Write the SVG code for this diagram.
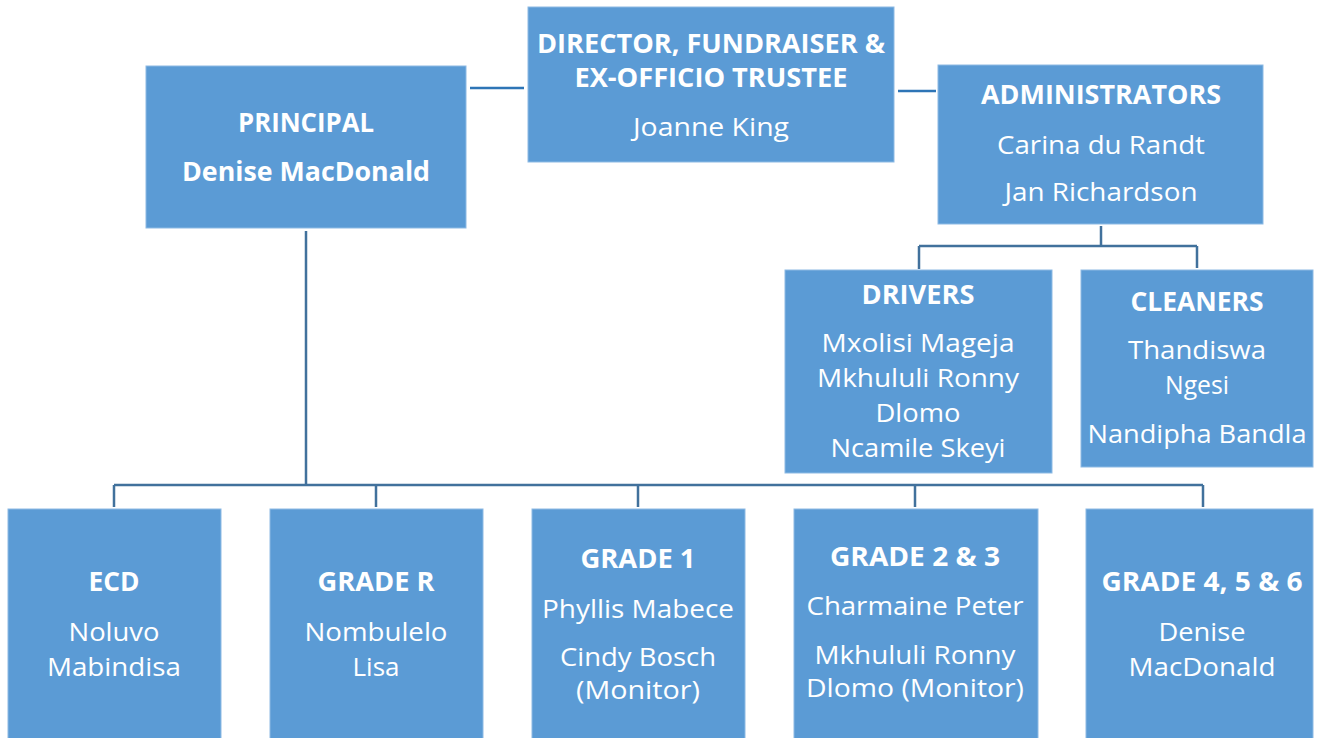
<svg xmlns="http://www.w3.org/2000/svg" width="1324" height="738" viewBox="0 0 1324 738">
<style>
.box{fill:#5B9BD5;stroke:#8DBAE4;stroke-width:1}
text{font-family:"Open Sans","Noto Sans","Liberation Sans",sans-serif;font-size:26px;fill:#FFFFFF;text-anchor:middle}
.b{font-weight:bold}
.top{fill:none;stroke:#2E75B6;stroke-width:2.5}
.tree{fill:none;stroke:#41719C;stroke-width:2.5}
</style>
<rect width="1324" height="738" fill="#FFFFFF"/>
<g id="connectors">
<path class="top" d="M470,88 H524"/>
<path class="top" d="M898,91 H936"/>
<path class="tree" d="M306,231 V485 M114,485 H1203 M114,485 V507 M376,485 V507 M638,485 V507 M915,485 V507 M1203,485 V507"/>
<path class="tree" d="M1101,226 V246 M919,246 H1197 M919,246 V269 M1197,246 V268"/>
</g>
<g id="principal">
<rect class="box" x="146" y="66" width="320" height="162"/>
<text class="b" x="306" y="132" textLength="136" lengthAdjust="spacingAndGlyphs">PRINCIPAL</text>
<text class="b" x="306" y="181" textLength="248" lengthAdjust="spacingAndGlyphs">Denise MacDonald</text>
</g>
<g id="director">
<rect class="box" x="528" y="7" width="366" height="155"/>
<text class="b" x="711" y="53" textLength="348" lengthAdjust="spacingAndGlyphs">DIRECTOR, FUNDRAISER &amp;</text>
<text class="b" x="711" y="87" textLength="273" lengthAdjust="spacingAndGlyphs">EX-OFFICIO TRUSTEE</text>
<text x="711" y="136" textLength="156" lengthAdjust="spacingAndGlyphs">Joanne King</text>
</g>
<g id="administrators">
<rect class="box" x="938" y="65" width="325" height="159"/>
<text class="b" x="1101" y="104" textLength="240" lengthAdjust="spacingAndGlyphs">ADMINISTRATORS</text>
<text x="1101" y="154" textLength="208" lengthAdjust="spacingAndGlyphs">Carina du Randt</text>
<text x="1101" y="201" textLength="193" lengthAdjust="spacingAndGlyphs">Jan Richardson</text>
</g>
<g id="drivers">
<rect class="box" x="785" y="270" width="267" height="203"/>
<text class="b" x="918" y="304" textLength="113" lengthAdjust="spacingAndGlyphs">DRIVERS</text>
<text x="918" y="352" textLength="193" lengthAdjust="spacingAndGlyphs">Mxolisi Mageja</text>
<text x="918" y="387" textLength="202" lengthAdjust="spacingAndGlyphs">Mkhululi Ronny</text>
<text x="918" y="422" textLength="85" lengthAdjust="spacingAndGlyphs">Dlomo</text>
<text x="918" y="457" textLength="175" lengthAdjust="spacingAndGlyphs">Ncamile Skeyi</text>
</g>
<g id="cleaners">
<rect class="box" x="1081" y="270" width="232" height="197"/>
<text class="b" x="1197" y="311" textLength="133" lengthAdjust="spacingAndGlyphs">CLEANERS</text>
<text x="1197" y="359" textLength="138" lengthAdjust="spacingAndGlyphs">Thandiswa</text>
<text x="1197" y="394" textLength="64" lengthAdjust="spacingAndGlyphs">Ngesi</text>
<text x="1197" y="443" textLength="219" lengthAdjust="spacingAndGlyphs">Nandipha Bandla</text>
</g>
<g id="ecd">
<rect class="box" x="8" y="509" width="213" height="232"/>
<text class="b" x="114" y="591" textLength="51" lengthAdjust="spacingAndGlyphs">ECD</text>
<text x="114" y="641" textLength="91" lengthAdjust="spacingAndGlyphs">Noluvo</text>
<text x="114" y="676" textLength="134" lengthAdjust="spacingAndGlyphs">Mabindisa</text>
</g>
<g id="grade-r">
<rect class="box" x="270" y="509" width="213" height="232"/>
<text class="b" x="376" y="591" textLength="117" lengthAdjust="spacingAndGlyphs">GRADE R</text>
<text x="376" y="641" textLength="143" lengthAdjust="spacingAndGlyphs">Nombulelo</text>
<text x="376" y="676" textLength="47" lengthAdjust="spacingAndGlyphs">Lisa</text>
</g>
<g id="grade-1">
<rect class="box" x="532" y="509" width="213" height="232"/>
<text class="b" x="638" y="568" textLength="115" lengthAdjust="spacingAndGlyphs">GRADE 1</text>
<text x="638" y="618" textLength="192" lengthAdjust="spacingAndGlyphs">Phyllis Mabece</text>
<text x="638" y="666" textLength="156" lengthAdjust="spacingAndGlyphs">Cindy Bosch</text>
<text x="638" y="699" textLength="124" lengthAdjust="spacingAndGlyphs">(Monitor)</text>
</g>
<g id="grade-2-3">
<rect class="box" x="794" y="509" width="244" height="232"/>
<text class="b" x="915" y="566" textLength="170" lengthAdjust="spacingAndGlyphs">GRADE 2 &amp; 3</text>
<text x="915" y="615" textLength="217" lengthAdjust="spacingAndGlyphs">Charmaine Peter</text>
<text x="915" y="664" textLength="201" lengthAdjust="spacingAndGlyphs">Mkhululi Ronny</text>
<text x="915" y="697" textLength="218" lengthAdjust="spacingAndGlyphs">Dlomo (Monitor)</text>
</g>
<g id="grade-4-5-6">
<rect class="box" x="1086" y="509" width="227" height="232"/>
<text class="b" x="1202" y="591" textLength="201" lengthAdjust="spacingAndGlyphs">GRADE 4, 5 &amp; 6</text>
<text x="1202" y="641" textLength="87" lengthAdjust="spacingAndGlyphs">Denise</text>
<text x="1202" y="676" textLength="147" lengthAdjust="spacingAndGlyphs">MacDonald</text>
</g>
</svg>
